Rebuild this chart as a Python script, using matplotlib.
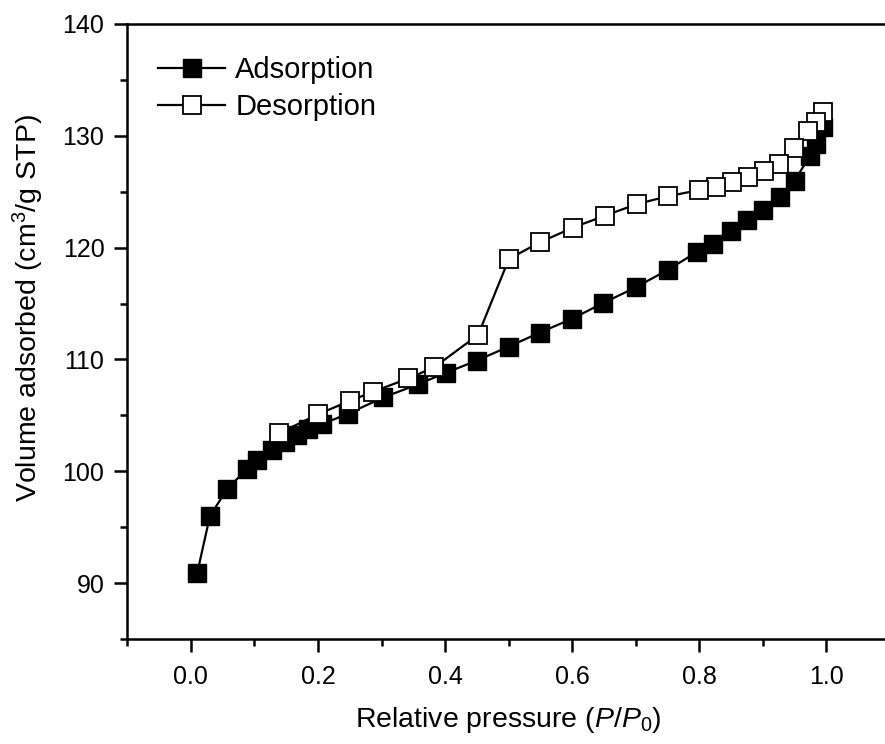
import matplotlib
matplotlib.use("Agg")
import matplotlib.pyplot as plt
from matplotlib.ticker import MultipleLocator

plt.rcParams['font.family'] = ['Liberation Sans', 'DejaVu Sans']
plt.rcParams['mathtext.fontset'] = 'custom'
plt.rcParams['mathtext.rm'] = 'Liberation Sans'
plt.rcParams['mathtext.it'] = 'Liberation Sans:italic'

ads_x = [0.010, 0.030, 0.057, 0.088, 0.104, 0.128, 0.148, 0.167, 0.184, 0.206,
         0.247, 0.303, 0.358, 0.401, 0.450, 0.500, 0.549, 0.600, 0.649, 0.700,
         0.750, 0.796, 0.821, 0.850, 0.875, 0.900, 0.927, 0.950, 0.974, 0.984, 0.994]
ads_y = [90.9, 96.0, 98.4, 100.2, 101.0, 101.9, 102.6, 103.2, 103.8, 104.2,
         105.15, 106.6, 107.8, 108.8, 109.9, 111.15, 112.4, 113.65, 115.05, 116.45,
         118.0, 119.6, 120.3, 121.5, 122.5, 123.4, 124.55, 126.0, 128.2, 129.3, 130.8]

des_x = [0.995, 0.983, 0.971, 0.949, 0.925, 0.9015, 0.877, 0.852, 0.827, 0.800,
         0.751, 0.702, 0.651, 0.6016, 0.550, 0.5005, 0.452, 0.383, 0.342, 0.286,
         0.2505, 0.200, 0.139]
des_y = [132.15, 131.2, 130.4, 128.9, 127.5, 126.85, 126.3, 125.9, 125.45, 125.15,
         124.6, 123.9, 122.85, 121.8, 120.5, 119.0, 112.2, 109.3, 108.3, 107.1,
         106.3, 105.1, 103.4]

x_ticks = [0.0, 0.2, 0.4, 0.6, 0.8, 1.0]
x_ticklabels = ['0.0', '0.2', '0.4', '0.6', '0.8', '1.0']
y_ticks = [90, 100, 110, 120, 130, 140]

fig = plt.figure(figsize=(8.85, 7.44), dpi=100)
ax = fig.add_axes([127.3/885, 1-639/744, (890-127.3)/885, 615/744])

ax.plot(ads_x, ads_y, '-s', color='black', lw=1.6, ms=12.5, mfc='black', mec='black',
        mew=1.0, label='Adsorption', zorder=3)
ax.plot(des_x, des_y, '-s', color='black', lw=1.6, ms=12.5, mfc='white', mec='black',
        mew=1.3, label='Desorption', zorder=4)

ax.set_xlim(-0.1, 1.1)
ax.set_ylim(85, 140)
ax.xaxis.set_minor_locator(MultipleLocator(0.1))
ax.yaxis.set_minor_locator(MultipleLocator(5))
ax.set_xticks(x_ticks)
ax.set_xticklabels(x_ticklabels)
ax.set_yticks(y_ticks)

for s in ['left', 'bottom', 'top']:
    ax.spines[s].set_linewidth(1.8)
ax.spines['right'].set_visible(False)

ax.tick_params(axis='both', which='major', direction='out', length=9.5, width=1.8,
               labelsize=18)
ax.tick_params(axis='x', which='major', pad=9)
ax.tick_params(axis='y', which='major', pad=7)
ax.tick_params(axis='both', which='minor', direction='out', length=5, width=1.8)
ax.tick_params(top=False, right=False)

ax.set_xlabel('Relative pressure ($\\mathit{P/P_0}$)', fontsize=20.5, labelpad=12)
ax.set_ylabel('Volume adsorbed (cm$^3$/g STP)', fontsize=20.5)
ax.yaxis.set_label_coords(-0.107, 0.538)

ax.legend(loc='upper left', bbox_to_anchor=(158/885, 1-56/744),
          bbox_transform=fig.transFigure, frameon=False, fontsize=21,
          handlelength=2.3, handletextpad=0.35, labelspacing=0.3,
          borderpad=0, borderaxespad=0)

fig.savefig('out.png', dpi=100)
